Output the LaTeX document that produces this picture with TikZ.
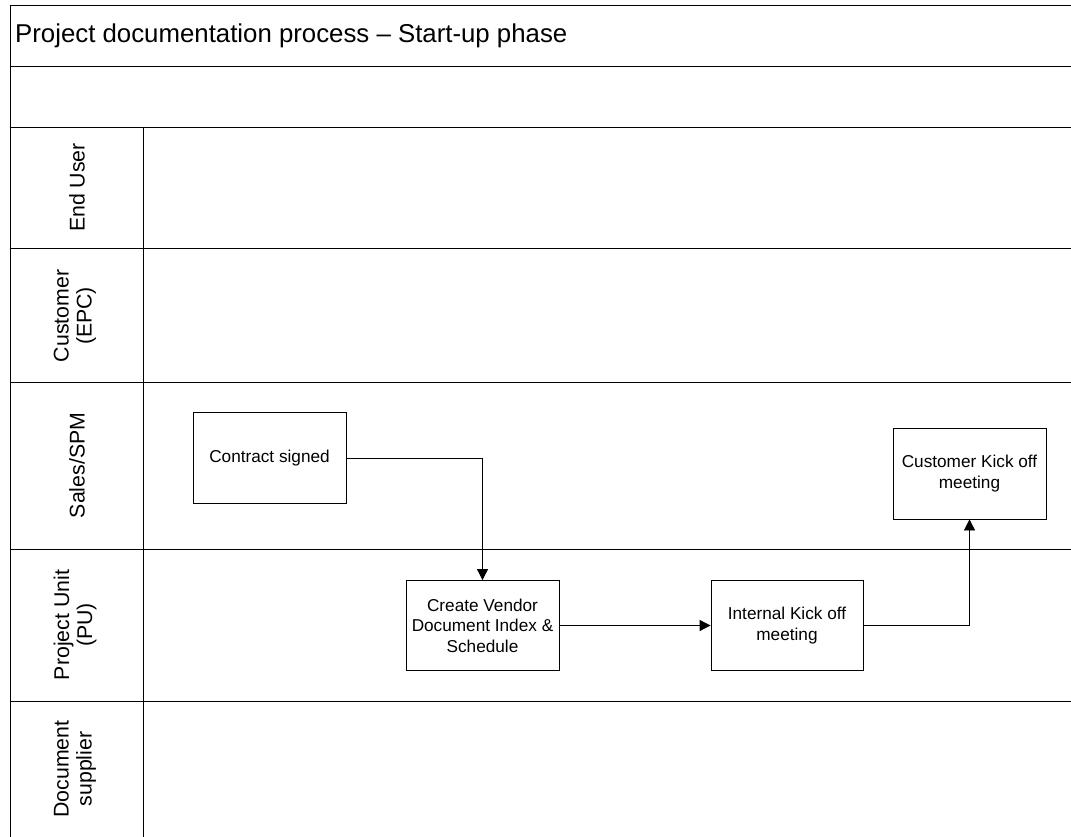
\documentclass[tikz,border=0pt]{standalone}
\usepackage{fontspec}
\setmainfont{Liberation Sans}
\usetikzlibrary{arrows.meta}
\begin{document}
\begin{tikzpicture}[x=1pt,y=-1pt,
  frame/.style={line width=0.9pt, draw=black},
  procbox/.style={draw=black, line width=0.8pt, fill=white, align=center,
    font=\fontsize{17.2}{20.5}\selectfont, inner sep=0pt},
  lanelabel/.style={rotate=90, align=center, font=\fontsize{21.3}{23}\selectfont},
  flow/.style={line width=0.8pt, -{Triangle[length=11pt,width=11pt]}}]
\useasboundingbox (0,0) rectangle (1071,837);
\fill[white] (0,0) rectangle (1071,837);

% pool frame, title row and empty row
\draw[frame] (1071,5) -- (10,5) -- (10,837);
\draw[frame] (10,66) -- (1071,66);
\draw[frame] (10,127) -- (1071,127);
\node[anchor=west, inner sep=0pt, font=\fontsize{25.8}{30}\selectfont] (title) at (15,36)
  {Project documentation process -- Start-up phase};

% lane separators and header column
\draw[frame] (143,127) -- (143,837);
\foreach \y in {248,382,549,701} \draw[frame] (10,\y) -- (1071,\y);

% lane headers
\node[lanelabel] (lEnd) at (77,187.5) {End User};
\node[lanelabel] (lCust) at (75,316) {Customer\\(EPC)};
\node[lanelabel] (lSales) at (77,465.5) {Sales/SPM};
\node[lanelabel] (lPU) at (75,625) {Project Unit\\(PU)};
\node[lanelabel] (lDoc) at (75,769) {Document\\supplier};

% process steps
\node[procbox, minimum width=153pt, minimum height=91pt] (contract) at (269.5,458)
  {Contract signed};
\node[procbox, minimum width=153pt, minimum height=90pt] (vdi) at (482.5,625.5)
  {Create Vendor\\Document Index \&\\Schedule};
\node[procbox, minimum width=152pt, minimum height=90pt] (ikom) at (787,625.5)
  {Internal Kick off\\meeting};
\node[procbox, minimum width=153pt, minimum height=91pt] (ckom) at (969.5,473.5)
  {Customer Kick off\\meeting};

% connectors
\draw[flow] (contract.east) -| (vdi.north);
\draw[flow] (vdi.east) -- (ikom.west);
\draw[flow] (ikom.east) -| (ckom.south);
\end{tikzpicture}
\end{document}
